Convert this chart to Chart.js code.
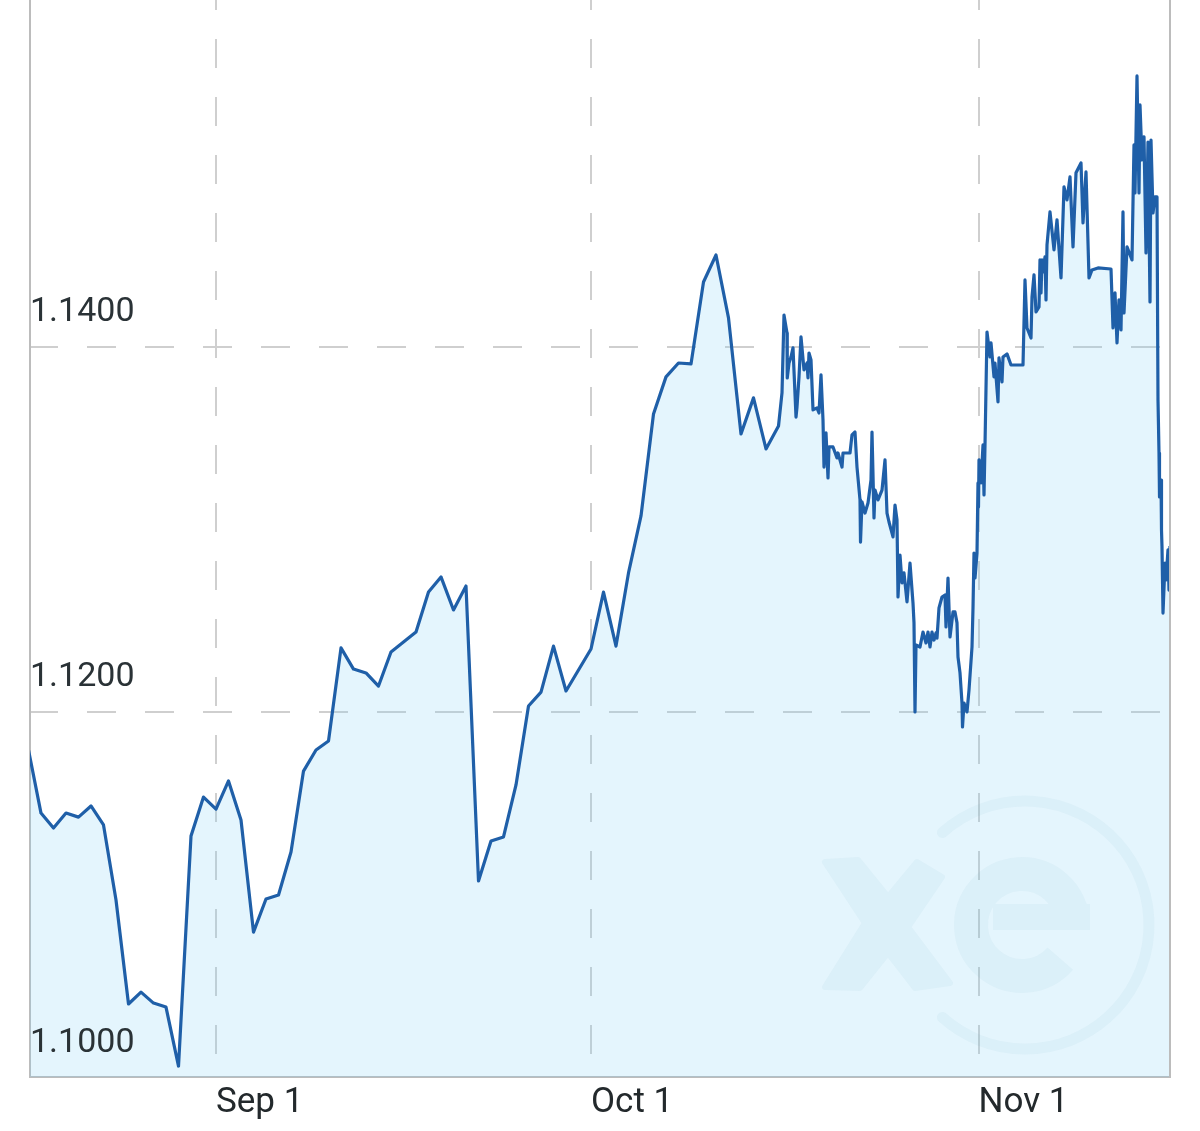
<!DOCTYPE html>
<html><head><meta charset="utf-8">
<style>html,body{margin:0;padding:0;background:#fff}canvas{display:block}</style>
<script src="https://cdn.jsdelivr.net/npm/chart.js@4"></script></head>
<body><canvas id="c" width="1200" height="1131"></canvas>
<script>
// Days counted from Sep 1
const dailyDays = [-15,-14,-13,-12,-11,-10,-9,-8,-7,-6,-5,-4,-3,-2,-1,0,1,2,3,4,5,6,7,8,9,10,11,12,13,14,15,16,17,18,19,20,21,22,23,24,25,26,27,28,29,30,31,32,33,34,35,36,37,38,39,40,41,42,43,44,45];
const dailyRates = [1.11792,1.11446,1.11364,1.11446,1.11424,1.11485,1.11381,1.10970,1.10400,1.10465,1.10405,1.10383,1.10060,1.11320,1.11534,1.11468,1.11622,1.11408,1.10794,1.10975,1.10997,1.11233,1.11676,1.11792,1.11841,1.12351,1.12235,1.12214,1.12142,1.12329,1.12383,1.12438,1.12657,1.12740,1.12559,1.12690,1.11074,1.11293,1.11315,1.11600,1.12033,1.12109,1.12361,1.12115,1.12230,1.12345,1.12657,1.12361,1.12762,1.13074,1.13633,1.13836,1.13912,1.13907,1.14356,1.14504,1.14159,1.13523,1.13721,1.13441,1.13567];
const octDays = [45.28,45.44,45.68,45.70,45.84,46.0,46.16,46.4,46.48,46.64,46.8,47.04,47.28,47.36,47.44,47.6,47.76,48.08,48.24,48.4,48.56,48.64,48.8,48.96,49.04,49.36,49.68,49.76,50.08,50.16,50.72,50.88,51.12,51.28,51.52,51.56,51.68,51.92,52.16,52.4,52.48,52.64,52.72,52.96,53.28,53.52,53.68,53.84,54.16,54.32,54.48,54.56,54.72,54.88,55.04,55.28,55.52,55.76,55.84,55.92,56.0,56.32,56.56,56.8,56.96,57.12,57.28,57.44,57.6,57.68,57.84,58.08,58.32,58.4,58.56,58.72,58.96,59.12,59.28,59.36,59.52,59.68,59.72,59.84,60.08,60.24,60.48,60.56,60.64,60.72,60.88];
const octRates = [1.13748,1.14175,1.14077,1.13830,1.13912,1.13945,1.13995,1.13616,1.13671,1.13836,1.14055,1.13874,1.13912,1.13830,1.13967,1.13929,1.13655,1.13666,1.13638,1.13847,1.13600,1.13342,1.13529,1.13282,1.13452,1.13452,1.13392,1.13419,1.13342,1.13419,1.13419,1.13518,1.13534,1.13342,1.13162,1.12931,1.13151,1.13090,1.13145,1.13271,1.13534,1.13063,1.13216,1.13162,1.13216,1.13381,1.13090,1.13041,1.12959,1.13134,1.13052,1.12630,1.12860,1.12707,1.12762,1.12603,1.12816,1.12597,1.12488,1.12000,1.12367,1.12356,1.12438,1.12378,1.12438,1.12356,1.12438,1.12394,1.12433,1.12405,1.12570,1.12630,1.12641,1.12466,1.12734,1.12411,1.12548,1.12548,1.12488,1.12301,1.12214,1.12049,1.11918,1.12049,1.12000,1.12120,1.12356,1.12570,1.12871,1.12734,1.12871];
const novDays = [60.96,61.0,61.04,61.2,61.36,61.44,61.52,61.68,61.92,62.0,62.24,62.32,62.56,62.64,62.88,62.96,63.28,63.6,64.56,64.72,64.88,65.2,65.28,65.44,65.6,65.84,65.92,66.0,66.08,66.16,66.32,66.4,66.48,66.72,67.04,67.28,67.6,67.84,68.08,68.32,68.56,68.8,69.2,69.36,69.6,69.84,70.08,70.56,71.6,71.76,71.92,72.08,72.24,72.4,72.56,72.64,72.88,73.28,73.44,73.52,73.68,73.84,73.92,74.08,74.24,74.4,74.56,74.72,74.8,74.96,75.12,75.28,75.36,75.44,75.48,75.6,75.64,75.68,75.76,75.92,76.0,76.16,76.24,76.32];
const novRates = [1.13255,1.13123,1.13381,1.13255,1.13463,1.13189,1.13463,1.14082,1.13945,1.14022,1.13836,1.13912,1.13699,1.13940,1.13808,1.13945,1.13962,1.13901,1.13901,1.14367,1.14104,1.14049,1.14274,1.14395,1.14192,1.14219,1.14477,1.14296,1.14477,1.14411,1.14493,1.14258,1.14559,1.14740,1.14532,1.14696,1.14378,1.14877,1.14806,1.14932,1.14548,1.14954,1.15008,1.14680,1.14959,1.14378,1.14422,1.14433,1.14427,1.14104,1.14296,1.14022,1.14258,1.14093,1.14740,1.14186,1.14548,1.14477,1.15107,1.14844,1.15485,1.14844,1.15326,1.15025,1.15151,1.14515,1.15123,1.14247,1.15134,1.14734,1.14822,1.14822,1.13710,1.13419,1.13178,1.13271,1.12997,1.12904,1.12542,1.12816,1.12723,1.12888,1.12668,1.12909];
const xTickValues = [0,30,61];
const xTickLabels = ['Sep 1','Oct 1','Nov 1'];
const yTickValues = [1.10,1.12,1.14];

const allDays = dailyDays.concat(octDays, novDays);
const allRates = dailyRates.concat(octRates, novRates);
const points = allDays.map((d,i)=>({x:d,y:allRates[i]}));

const logoOutline = [[825,862],[858,860],[888,897],[917,862],[942,877],[908,927],[950,983],[915,988],[888,953],[860,988],[825,987],[865,923]];

const frameAndLogo = {
  id:'frameAndLogo',
  afterDatasetsDraw(chart){
    const {ctx,chartArea:a,width,height} = chart;
    const off = document.createElement('canvas');
    off.width = width; off.height = height;
    const g = off.getContext('2d');
    g.fillStyle = g.strokeStyle = '#5a9fb5';
    g.lineJoin = 'round';
    g.lineWidth = 6;
    g.beginPath();
    logoOutline.forEach((p,i)=>i?g.lineTo(p[0],p[1]):g.moveTo(p[0],p[1]));
    g.closePath();g.fill();g.stroke();
    g.lineWidth = 34;
    g.beginPath();g.arc(1022,925,51,0.72,Math.PI*2);g.stroke();
    g.fillRect(993,904,97,26);
    g.lineWidth = 11;
    g.lineCap = 'round';
    g.beginPath();g.arc(1025,925,124,-2.3,2.3);g.stroke();
    ctx.save();
    ctx.globalAlpha = 0.06;
    ctx.drawImage(off,0,0);
    ctx.globalAlpha = 1;
    // right frame line
    ctx.strokeStyle='#bcbcbc';ctx.lineWidth=2;
    ctx.beginPath();ctx.moveTo(a.right,a.top);ctx.lineTo(a.right,a.bottom);ctx.stroke();
    ctx.restore();
  }
};

new Chart(document.getElementById('c'),{
  type:'line',
  data:{datasets:[{
    data:points,
    borderColor:'#1f5fa8',
    borderWidth:3.2,
    backgroundColor:'rgba(127,208,245,0.21)',
    fill:'start',
    pointRadius:0,
    tension:0,
    borderJoinStyle:'round'
  }]},
  options:{
    responsive:false,animation:false,devicePixelRatio:1,
    layout:{padding:{left:30,right:30,top:0,bottom:0}},
    plugins:{legend:{display:false},tooltip:{enabled:false},title:{display:false}},
    scales:{
      x:{
        type:'linear',min:-14.88,max:76.32,
        afterBuildTicks(s){s.ticks=xTickValues.map(v=>({value:v}));},
        afterFit(s){s.height=54;s.paddingLeft=0;s.paddingRight=0;},
        grid:{color:'#cfcfcf',lineWidth:2,drawTicks:false},
        border:{display:true,color:'#bcbcbc',width:2,dash:[29,29],dashOffset:19},
        ticks:{
          autoSkip:false,maxRotation:0,align:'start',padding:5,color:'#23292c',
          font:{family:'Roboto',size:35,weight:'400'},
          callback(v){const i=xTickValues.indexOf(v);return i>=0?xTickLabels[i]:'';}
        }
      },
      y:{
        type:'linear',min:1.10,max:1.15901,
        afterBuildTicks(s){s.ticks=yTickValues.map(v=>({value:v}));},
        afterFit(s){s.width=0;s.paddingTop=0;s.paddingBottom=0;},
        grid:{color(c){return c.tick&&c.tick.value===1.10?'rgba(0,0,0,0)':'#cfcfcf';},lineWidth:2,drawTicks:false},
        border:{display:true,color:'#bcbcbc',width:2,dash:[29,29],dashOffset:2},
        ticks:{
          mirror:true,padding:0,labelOffset:-34,color:'#2a3236',z:1,
          font:{family:'Roboto',size:34,weight:'400'},
          callback(v){return Number(v).toFixed(4);}
        }
      }
    }
  },
  plugins:[frameAndLogo]
});
</script></body></html>
